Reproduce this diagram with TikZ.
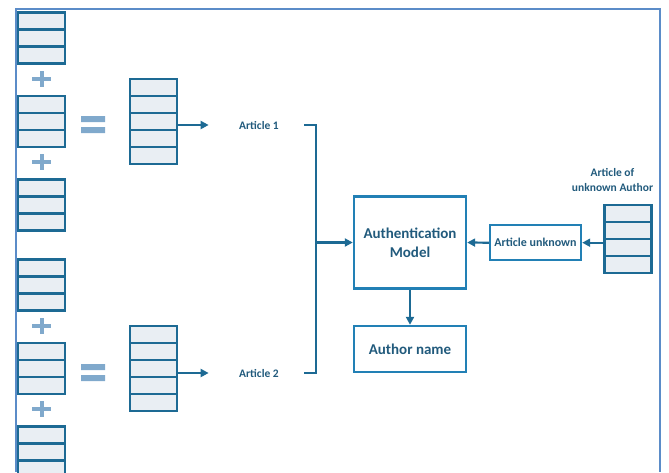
\documentclass[tikz,border=0pt]{standalone}
\usepackage{fontspec}
\setmainfont{Carlito}
\usepackage{tikz}
\usetikzlibrary{arrows.meta, positioning, calc}

\definecolor{framblue}{HTML}{5B8CC8}
\definecolor{boxblue}{HTML}{2280B5}
\definecolor{cellline}{HTML}{1D6A94}
\definecolor{cellfill}{HTML}{E9EEF3}
\definecolor{signblue}{HTML}{80A9CC}
\definecolor{textblue}{HTML}{215A7C}

% one column of cells, named <name>-1 ... <name>-n
\newcommand{\cellstack}[4]{%
  \foreach \i in {1,...,#4}
    \node[cell] (#1-\i) at (#2, {#3 + (\i-0.5)*17}) {};}

\begin{document}
\begin{tikzpicture}[
    x=1pt, y=-1pt,
    cell/.style={draw=cellline, fill=cellfill, line width=2.3pt,
                 minimum width=47pt, minimum height=17pt, inner sep=0pt},
    block/.style={draw=boxblue, line width=2.4pt, align=center,
                  inner sep=0pt, font=\bfseries\fontsize{15}{19}\selectfont,
                  text=textblue},
    label/.style={font=\bfseries\fontsize{11.5}{14}\selectfont, text=textblue},
    sign/.style={signblue, line width=4pt},
    arrow/.style={-{Triangle[length=8pt,width=8pt]}, line width=2.2pt,
                  draw=cellline},
    wire/.style={line width=2.2pt, draw=cellline}
  ]
    \clip (0,0) rectangle (669,472);

    % frame
    \draw[framblue, line width=1.8pt] (16,472) -- (16,9) -- (660,9) -- (660,472);

    % first author
    \cellstack{a1}{41.5}{12.5}{3}
    \cellstack{a2}{41.5}{96}{3}
    \cellstack{a3}{41.5}{179.5}{3}
    \cellstack{b1}{153.5}{79}{5}

    \draw[sign] (32,79) -- (51,79) (41.5,71) -- (41.5,87);
    \draw[sign] (32,162) -- (51,162) (41.5,154) -- (41.5,170);
    \fill[signblue] (81,116) rectangle (105,122) (81,127) rectangle (105,133);

    % second author
    \cellstack{c1}{41.5}{259.5}{3}
    \cellstack{c2}{41.5}{343}{3}
    \cellstack{c3}{41.5}{426.5}{3}
    \cellstack{d1}{153.5}{326}{5}

    \draw[sign] (32,326) -- (51,326) (41.5,318) -- (41.5,334);
    \draw[sign] (32,409) -- (51,409) (41.5,401) -- (41.5,417);
    \fill[signblue] (81,364) rectangle (105,370) (81,375) rectangle (105,381);

    \node[label] (art1) at (259,125) {Article 1};
    \node[label] (art2) at (259,373) {Article 2};

    \draw[arrow] (b1-3.east |- art1.west) -- ([xshift=-27pt]art1.west);
    \draw[arrow] (d1-3.east |- art2.west) -- ([xshift=-27pt]art2.west);

    % model side
    \node[block, minimum width=112pt, minimum height=92pt] (model)
      at (410,242.5) {Authentication\\Model};
    \node[block, minimum width=112pt, minimum height=46pt] (author)
      at (410,349) {Author name};
    \node[block, minimum width=91pt, minimum height=35pt,
          font=\bfseries\fontsize{12}{14}\selectfont] (unk)
      at (535.5,242.7) {Article unknown};

    \cellstack{u1}{628}{205}{4}
    \node[label, align=center, font=\bfseries\fontsize{11.5}{15.5}\selectfont]
      (unklabel) at (612.5,180) {Article of\\unknown Author};

    \coordinate (brtop) at (316,125);
    \coordinate (brbot) at (316,373);
    \draw[wire] (304,125) -- (brtop) -- (brbot) -- (304,373);
    \draw[arrow] (model.west -| brtop) -- (model.west);

    \draw[arrow] (model) -- (author);
    \draw[arrow] (unk.west) -- (model.east);
    \draw[arrow] (u1-2.west |- unk.east) -- (unk.east);
  \end{tikzpicture}
\end{document}
